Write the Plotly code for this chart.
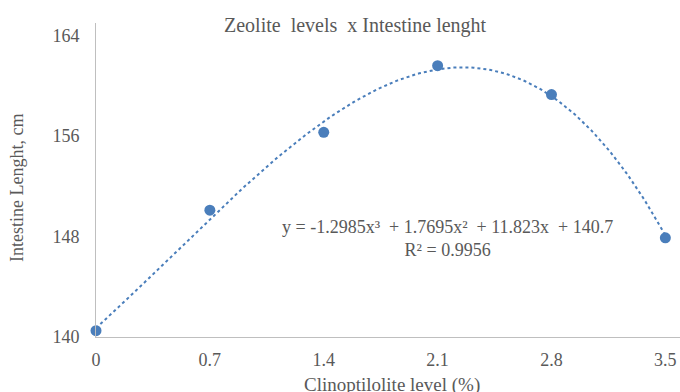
import numpy as np
import plotly.graph_objects as go

levels = [0, 0.7, 1.4, 2.1, 2.8, 3.5]
lengths = [140.5, 150.1, 156.3, 161.6, 159.3, 147.9]
trend_coefs = [-1.2985, 1.7695, 11.823, 140.7]
x_ticks = [0, 0.7, 1.4, 2.1, 2.8, 3.5]
x_tick_text = ["0", "0.7", "1.4", "2.1", "2.8", "3.5"]
y_ticks = [140, 148, 156, 164]

blue = "#4a7ebb"
gray = "#595959"
font = "Liberation Serif"

xs = np.linspace(levels[0], levels[-1], 200)
ys = np.polyval(trend_coefs, xs)

L, R, T, B = 96, 680, 23, 337
PW, PH = R - L, B - T

def px(x):
    return (x - L) / PW

def py(y):
    return (B - y) / PH

fig = go.Figure()
fig.add_trace(go.Scatter(x=xs, y=ys, mode="lines",
                         line=dict(color=blue, width=2, dash="dot"),
                         hoverinfo="skip", cliponaxis=False))
fig.add_trace(go.Scatter(x=levels, y=lengths, mode="markers",
                         marker=dict(color=blue, size=11),
                         cliponaxis=False))

fig.update_layout(
    width=680, height=392,
    margin=dict(l=L, r=680 - R, t=T, b=392 - B),
    paper_bgcolor="white", plot_bgcolor="white",
    showlegend=False,
    font=dict(family=font, color=gray, size=18),
    xaxis=dict(range=[0, 3.59], tickvals=x_ticks, ticktext=x_tick_text,
               showgrid=False, zeroline=False, showline=True,
               linecolor="#bfbfbf", linewidth=1, ticks="",
               ticklabelstandoff=6,
               tickfont=dict(family=font, color=gray, size=18)),
    yaxis=dict(range=[140, 165], tickvals=y_ticks,
               showgrid=False, zeroline=False, showline=True,
               linecolor="#bfbfbf", linewidth=1, ticks="",
               ticklabelstandoff=12,
               tickfont=dict(family=font, color=gray, size=18)),
    annotations=[
        dict(text="Zeolite\u00a0 levels\u00a0 x Intestine lenght", xref="paper", yref="paper",
             x=px(355), y=py(25), xanchor="center", yanchor="middle",
             showarrow=False, font=dict(family=font, color=gray, size=20)),
        dict(text="Clinoptilolite level (%)", xref="paper", yref="paper",
             x=px(392), y=py(385), xanchor="center", yanchor="middle",
             showarrow=False, font=dict(family=font, color=gray, size=19)),
        dict(text="Intestine Lenght, cm", xref="paper", yref="paper",
             x=px(17), y=py(188), xanchor="center", yanchor="middle",
             textangle=-90, showarrow=False, font=dict(family=font, color=gray, size=18)),
        dict(text="y = -1.2985x\u00b3\u00a0 + 1.7695x\u00b2\u00a0 + 11.823x\u00a0 + 140.7<br>R\u00b2 = 0.9956",
             xref="paper", yref="paper", x=px(447), y=py(238),
             xanchor="center", yanchor="middle", align="center",
             showarrow=False, font=dict(family=font, color=gray, size=18)),
    ],
)

fig.write_html("out.html", config={"displayModeBar": False},
               post_script="document.body.style.margin='0';document.body.style.padding='0';")
